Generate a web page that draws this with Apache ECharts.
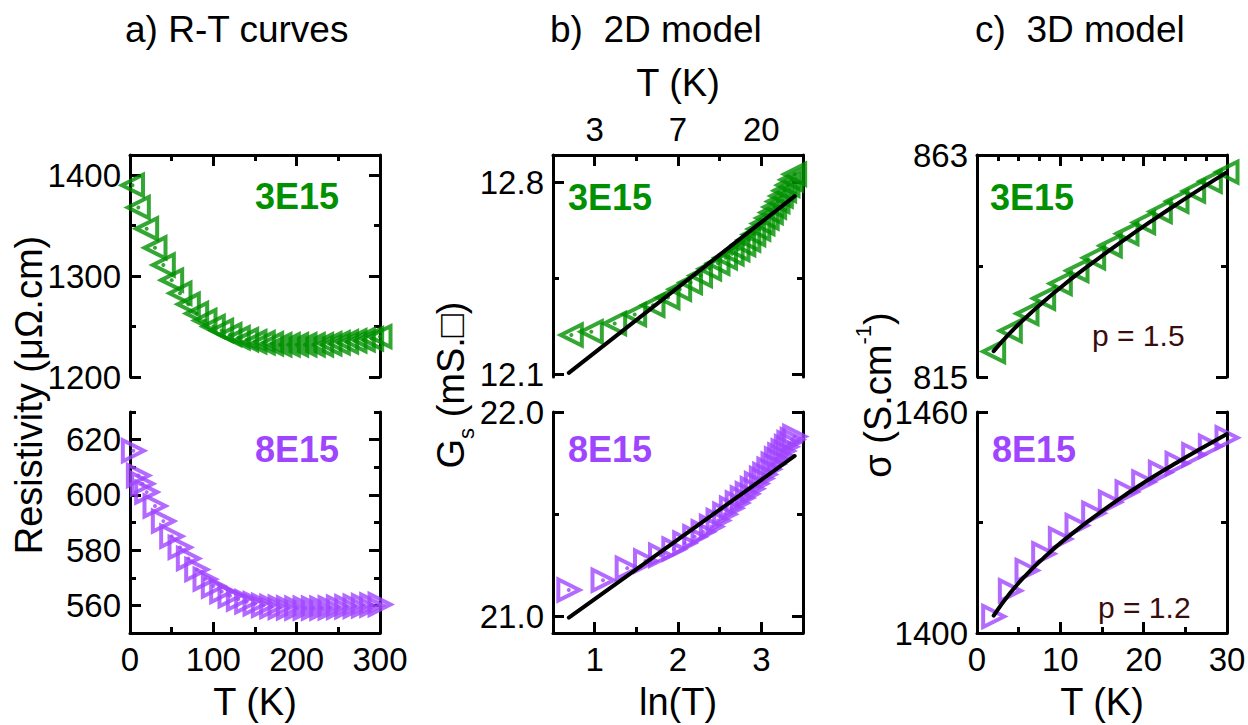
<!DOCTYPE html>
<html><head><meta charset="utf-8">
<script src="https://cdn.jsdelivr.net/npm/echarts@6/dist/echarts.min.js"></script>
<style>html,body{margin:0;padding:0;background:#fff}#c{width:1248px;height:725px}</style>
</head><body><div id="c"></div>
<script>
// ---------- Panel a: R-T curves ----------
const aT_3E15 = [3,10,20,30,40,50,60,70,80,90,100,110,120,130,140,150,160,170,180,190,200,210,220,230,240,250,260,270,280,290,300];
const aR_3E15 = [1390,1368,1347,1328,1311,1296,1283,1272,1263,1256,1250,1246,1242,1239,1237,1235,1234,1233,1232,1232,1232,1232,1232,1232,1233,1234,1235,1236,1237,1238,1240];
const aT_8E15 = [4,10,15,20,30,40,50,60,70,80,90,100,110,120,130,140,150,160,170,180,190,200,210,220,230,240,250,260,270,280,290,300];
const aR_8E15 = [616,607,604,601,596,590.5,585,581,577,573,569.5,567,565,563.5,562.3,561.3,560.6,560,559.6,559.3,559.1,559,559,559,559,559.1,559.3,559.5,559.7,559.9,560.1,560.3];
// ---------- Panel b: 2D model ----------
const bLn_3E15 = [0.72,0.96,1.24,1.48,1.70,1.88,2.02,2.15,2.27,2.38,2.48,2.57,2.65,2.72,2.79,2.85,2.91,2.97,3.02,3.07,3.12,3.16,3.20,3.24,3.28,3.32,3.36,3.40];
const bG_3E15 = [12.243,12.255,12.285,12.318,12.352,12.38,12.41,12.435,12.46,12.485,12.505,12.525,12.54,12.555,12.573,12.59,12.61,12.63,12.65,12.67,12.69,12.71,12.73,12.75,12.77,12.79,12.81,12.83];
const bLn_8E15 = [0.69,1.10,1.39,1.61,1.79,1.95,2.08,2.20,2.30,2.40,2.48,2.56,2.64,2.71,2.77,2.83,2.89,2.94,3.00,3.04,3.09,3.14,3.18,3.22,3.26,3.30,3.33,3.37,3.40];
const bG_8E15 = [21.13,21.178,21.237,21.272,21.30,21.33,21.36,21.39,21.415,21.44,21.47,21.50,21.53,21.555,21.58,21.60,21.625,21.65,21.675,21.695,21.72,21.745,21.77,21.79,21.81,21.83,21.85,21.865,21.88];
const bFitLn = [0.69,3.40];
const bFit_3E15 = [12.105,12.75];
const bFit_8E15 = [20.995,21.785];
// ---------- Panel c: 3D model ----------
const cT = [2,4,6,8,10,12,14,16,18,20,22,24,26,28,30];
const cS_3E15 = [820.5,825,828.7,832,835.2,838,840.8,843.4,846,848.4,850.8,853,855.2,857.3,859.3];
const cS_8E15 = [1404.5,1411.5,1417,1421.5,1425.5,1429.2,1432.5,1435.5,1438.3,1441,1443.6,1446,1448.4,1450.7,1453];
const cFitT = [2,4,6,8,10,12,15,18,21,24,27,30];
const cFit_3E15 = [820.6,824.6,828.1,831.3,834.3,837.2,841.2,845.1,848.8,852.4,855.9,859.3];
const cFit_8E15 = [1404.7,1410.9,1416.0,1420.4,1424.4,1428.0,1433.1,1437.8,1442.2,1446.3,1450.2,1454.0];
// ---------- ticks ----------
const aXMajor = [0,100,200,300], aXMinor = [50,150,250];
const aYMajorTop = [1200,1300,1400], aYMinorTop = [1250,1350];
const aYMajorBot = [560,580,600,620], aYMinorBot = [550,570,590,610,630];
const bXMajor = [1,2,3], bXMinor = [1.5,2.5];
const bTopLabels = ['3','7','20'];
const bYMajorTop = [12.1,12.8], bYMinorTop = [12.45];
const bYMajorBot = [21.0,22.0], bYMinorBot = [21.5];
const cXMajor = [0,10,20,30], cXMinorBot = [5,15,25];
const cXMinorTop = [2.5,5,7.5,12.5,15,17.5,22.5,25,27.5];
const cYMajorTop = [815,863], cYMinorTop = [839];
const cYMajorBot = [1400,1460], cYMinorBot = [1430];

const FONT = '"Liberation Sans", Arial, Helvetica, sans-serif';
const BLACK = '#000';
const GREEN = '#009000';
const PURPLE = '#a045ff';
const BROWN = '#3a0d0d';
const TICK_FS = 33, NAME_FS = 38;

const grids = [
  {left:130, top:155, width:250, height:222},
  {left:130, top:412, width:250, height:221},
  {left:553, top:155, width:250, height:222},
  {left:553, top:412, width:250, height:221},
  {left:977, top:155, width:250, height:222},
  {left:977, top:412, width:250, height:221}
].map(g => Object.assign({outerBoundsMode:'none', containLabel:false, show:false}, g));

const xAxis = [], yAxis = [];
function addAxis(list, g, pos, range, major, minor, opt) {
  opt = opt || {};
  const idx = list.length;
  list.push({
    type:'value', gridIndex:g, position:pos, min:range[0], max:range[1],
    axisLine:{show:true, onZero:false, lineStyle:{color:BLACK, width:3}},
    axisTick:{show:true, inside:true, length:11, customValues:major, lineStyle:{color:BLACK, width:3}},
    axisLabel:{show:!!opt.labels, customValues:major, margin:(opt.margin!=null?opt.margin:9), color:BLACK,
      fontSize:TICK_FS, fontFamily:FONT, formatter:opt.fmt || (v => String(v))},
    splitLine:{show:false}, minorTick:{show:false}, minorSplitLine:{show:false},
    name:opt.name || '', nameLocation:'middle', nameGap:opt.nameGap || 50,
    nameTextStyle:{color:BLACK, fontSize:NAME_FS, fontFamily:FONT}
  });
  if (minor && minor.length) list.push({
    type:'value', gridIndex:g, position:pos, min:range[0], max:range[1],
    axisLine:{show:false, onZero:false},
    axisTick:{show:true, inside:true, length:6, customValues:minor, lineStyle:{color:BLACK, width:3}},
    axisLabel:{show:false}, splitLine:{show:false}, minorTick:{show:false}
  });
  return idx;
}
const fix1 = v => Number(v).toFixed(1);

// panel a
const xa0 = addAxis(xAxis, 0, 'top', [0,300], aXMajor, aXMinor, {});
const ya0 = addAxis(yAxis, 0, 'left', [1200,1420], aYMajorTop, aYMinorTop, {labels:true});
addAxis(yAxis, 0, 'right', [1200,1420], aYMajorTop, aYMinorTop, {});
const xa1 = addAxis(xAxis, 1, 'bottom', [0,300], aXMajor, aXMinor, {labels:true, name:'T (K)', nameGap:50, margin:10});
const ya1 = addAxis(yAxis, 1, 'left', [550,630], aYMajorBot, aYMinorBot, {labels:true});
addAxis(yAxis, 1, 'right', [550,630], aYMajorBot, aYMinorBot, {});
// panel b
const xb0 = addAxis(xAxis, 2, 'top', [0.5,3.5], bXMajor, bXMinor,
  {labels:true, margin:9, name:'T (K)', nameGap:53, fmt: v => bTopLabels[bXMajor.indexOf(Number(v))]});
const yb0 = addAxis(yAxis, 2, 'left', [12.09,12.9], bYMajorTop, bYMinorTop, {labels:true, fmt:fix1});
addAxis(yAxis, 2, 'right', [12.09,12.9], bYMajorTop, bYMinorTop, {});
const xb1 = addAxis(xAxis, 3, 'bottom', [0.5,3.5], bXMajor, bXMinor, {labels:true, name:'ln(T)', nameGap:50, margin:10});
const yb1 = addAxis(yAxis, 3, 'left', [20.92,22.0], bYMajorBot, bYMinorBot, {labels:true, fmt:fix1});
addAxis(yAxis, 3, 'right', [20.92,22.0], bYMajorBot, bYMinorBot, {});
// panel c
const xc0 = addAxis(xAxis, 4, 'top', [0,30], cXMajor, cXMinorTop, {});
const yc0 = addAxis(yAxis, 4, 'left', [815,863], cYMajorTop, cYMinorTop, {labels:true});
addAxis(yAxis, 4, 'right', [815,863], cYMajorTop, cYMinorTop, {});
const xc1 = addAxis(xAxis, 5, 'bottom', [0,30], cXMajor, cXMinorBot, {labels:true, name:'T (K)', nameGap:50, margin:10});
const yc1 = addAxis(yAxis, 5, 'left', [1400,1460], cYMajorBot, cYMinorBot, {labels:true});
addAxis(yAxis, 5, 'right', [1400,1460], cYMajorBot, cYMinorBot, {});

const zip = (xs, ys) => xs.map((x, i) => [x, ys[i]]);
const series = [];
function markers(xi, yi, xs, ys, color, rot, dots) {
  series.push({type:'scatter', xAxisIndex:xi, yAxisIndex:yi, data:zip(xs, ys),
    symbol:'triangle', symbolRotate:rot, symbolSize:21, z:2,
    itemStyle:{color:'rgba(255,255,255,0)', borderColor:color, borderWidth:4}});
  if (dots) series.push({type:'scatter', xAxisIndex:xi, yAxisIndex:yi, data:zip(xs, ys),
    symbol:'circle', symbolSize:4, z:3, itemStyle:{color:color}});
}
function fit(xi, yi, xs, ys, smooth) {
  series.push({type:'line', xAxisIndex:xi, yAxisIndex:yi, data:zip(xs, ys), smooth:smooth,
    showSymbol:false, symbol:'none', z:5, lineStyle:{color:BLACK, width:4, cap:'round'}});
}
markers(xa0, ya0, aT_3E15, aR_3E15, GREEN, 90, true);
markers(xa1, ya1, aT_8E15, aR_8E15, PURPLE, -90, true);
markers(xb0, yb0, bLn_3E15, bG_3E15, GREEN, 90, true);
fit(xb0, yb0, bFitLn, bFit_3E15, false);
markers(xb1, yb1, bLn_8E15, bG_8E15, PURPLE, -90, true);
fit(xb1, yb1, bFitLn, bFit_8E15, false);
markers(xc0, yc0, cT, cS_3E15, GREEN, 90, false);
fit(xc0, yc0, cFitT, cFit_3E15, true);
markers(xc1, yc1, cT, cS_8E15, PURPLE, -90, false);
fit(xc1, yc1, cFitT, cFit_8E15, true);

function label(x, y, text, color) {
  return {type:'text', x:x, y:y, z:10, style:{text:text, fill:color, fontSize:36, fontWeight:'bold',
    fontFamily:FONT, align:'left', verticalAlign:'middle'}};
}
function plain(x, y, text, color, size) {
  return {type:'text', x:x, y:y, z:10, style:{text:text, fill:color, fontSize:size, fontFamily:FONT,
    align:'left', verticalAlign:'middle'}};
}
const graphic = [
  label(255, 196, '3E15', GREEN), label(255, 449, '8E15', PURPLE),
  label(568, 197, '3E15', GREEN), label(568, 449, '8E15', PURPLE),
  label(990, 197, '3E15', GREEN), label(992, 449, '8E15', PURPLE),
  plain(1092, 335, 'p = 1.5', BROWN, 30), plain(1098, 607, 'p = 1.2', BROWN, 30),
  {type:'text', x:29, y:395, rotation:Math.PI/2, z:10,
    style:{text:'Resistivity (μΩ.cm)', fill:BLACK, fontSize:NAME_FS, fontFamily:FONT, align:'center', verticalAlign:'middle'}},
  {type:'text', x:451, y:385, rotation:Math.PI/2, z:10,
    style:{text:'G{s|s} (mS.□)', fill:BLACK, fontSize:NAME_FS, fontFamily:FONT, lineHeight:52, align:'center', verticalAlign:'middle',
      rich:{s:{fontSize:22, fontFamily:FONT, fill:BLACK, lineHeight:16, verticalAlign:'bottom'}}}},
  {type:'text', x:878, y:395, rotation:Math.PI/2, z:10,
    style:{text:'σ (S.cm{p|-1})', fill:BLACK, fontSize:NAME_FS, fontFamily:FONT, lineHeight:52, align:'center', verticalAlign:'middle',
      rich:{p:{fontSize:22, fontFamily:FONT, fill:BLACK, lineHeight:32, verticalAlign:'top'}}}}
];

const titleStyle = {fontSize:37, fontWeight:'normal', color:BLACK, fontFamily:FONT};
const option = {
  animation:false,
  backgroundColor:'#fff',
  title:[
    {text:'a) R-T curves', left:125, top:11, padding:0, textStyle:titleStyle},
    {text:'b)\u00a0\u00a02D model', left:550, top:11, padding:0, textStyle:titleStyle},
    {text:'c)\u00a0\u00a03D model', left:975, top:11, padding:0, textStyle:titleStyle}
  ],
  grid:grids, xAxis:xAxis, yAxis:yAxis, series:series, graphic:graphic
};
const chart = echarts.init(document.getElementById('c'), null, {renderer:'svg', width:1248, height:725});
chart.setOption(option);
</script>
</body></html>
